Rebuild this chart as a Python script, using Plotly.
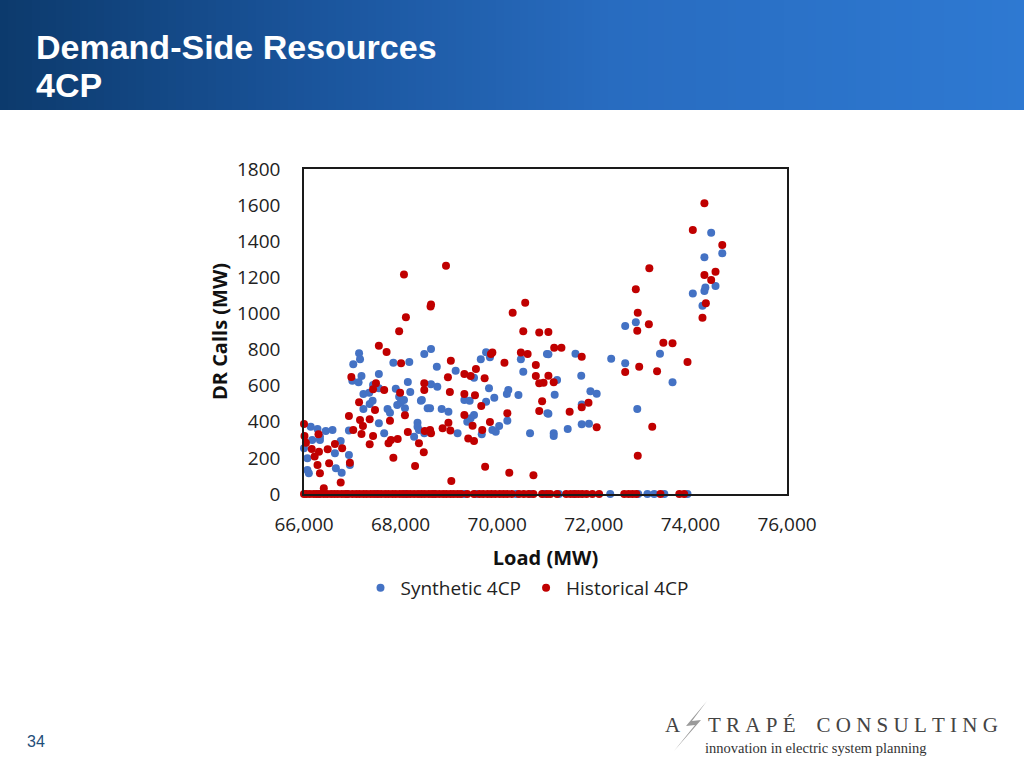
import plotly.graph_objects as go

# ---------------- data ----------------
syn_load = [
    74430, 74290, 74660, 74310, 74290, 74520, 74050, 74250, 72650, 72870,
    71060, 71620, 72360, 72650, 73370, 73630, 71740, 71240, 71190, 71930,
    72060, 71750, 71060, 72900, 71750, 71900, 71460, 71170, 71170,
    67140, 67160, 67020, 67850, 68180, 68490, 67550, 67190, 67000, 67130,
    67430, 68150, 67230, 67350, 67550, 67900, 68200, 67970, 68070, 68000,
    67930, 68420, 68560, 67420, 67360, 67230, 67730, 67780, 68090, 67550,
    67660, 66930, 68350, 68350, 68280, 66140, 66280, 66450, 66590, 66330,
    66330, 66000, 66170, 66760, 66640, 66930,
    66070, 66070, 66100, 66660, 66780, 66950,
    68630, 68750, 69140, 69660, 69770, 69850, 70490, 70540, 71030, 69520,
    68630, 68760, 69830, 70230, 70200, 70440, 69940, 68440, 69320, 69430,
    69770, 68610, 68850, 68990, 69520, 69450, 69380, 70210, 70040, 69900,
    69970, 69680, 69180, 68490, 68380, 70680, 71040,
    # zero calls
    69320, 69560, 70390, 70970, 71280, 72340, 72920, 73110, 73250, 73460,
    73940, 66300, 66900, 67500, 68100, 68700, 70700, 71600,
]
syn_calls = [
    1447, 1311, 1333, 1143, 1124, 1152, 1111, 1043, 930, 951,
    774, 777, 749, 724, 777, 619, 655, 631, 550, 569,
    555, 495, 445, 471, 386, 389, 360, 336, 321,
    779, 746, 718, 727, 731, 775, 665, 653, 627, 619,
    604, 620, 554, 561, 585, 583, 565, 539, 521, 506,
    493, 517, 475, 517, 498, 471, 471, 450, 475, 392,
    336, 351, 395, 373, 317, 373, 360, 349, 354, 317,
    299, 253, 299, 293, 225, 216,
    198, 133, 115, 142, 118, 161,
    803, 705, 683, 746, 785, 757, 746, 677, 775, 644,
    608, 594, 585, 576, 554, 548, 533, 521, 521, 517,
    511, 475, 471, 456, 437, 419, 400, 406, 377, 354,
    345, 331, 336, 336, 354, 336, 447,
    0, 0, 0, 0, 0, 0, 0, 0, 0, 0,
    0, 0, 0, 0, 0, 0, 0, 0,
]

hist_load = [
    74290, 74050, 74660, 73150, 74290, 74520, 74430, 72870, 74320, 74250,
    72910, 73140, 72900, 70870, 71060, 73440, 73630, 68070, 68940, 68630,
    68620, 68110, 67970, 70320, 70580, 70540, 71180, 71330, 71750, 72650,
    72940, 73940, 73310, 71060, 70870, 70960, 71170, 70930, 71750, 71890,
    70870, 71500, 72060, 73210, 72910, 67550, 67710, 68010, 66980, 67490,
    67430, 67660, 67990, 68490, 68490, 67140, 67470, 66930, 67160, 67360,
    67220, 67780, 68090, 67020, 67190, 67430, 68150, 68500, 67800, 67750,
    67940, 67360, 68380, 68480, 67850, 66000, 66010, 66040, 66300, 66160,
    66310, 66490, 66640, 66790, 66220, 68300, 69750, 70250, 70750, 69050,
    66760, 66410, 66330, 66520, 66280, 66950, 70490, 70630, 69900, 69870,
    70150, 69040, 70800, 70800, 69560, 69320, 69450, 68980, 69740, 69020,
    69320, 69540, 69670, 69320, 70210, 68990, 69850, 69490, 68610, 68630,
    68870, 69030, 69690, 69400, 69520,
    # zero calls
    66000, 66050, 66120, 66200, 66260, 66330, 66410, 66480, 66560, 66630,
    66700, 66780, 66850, 66910, 67000, 67080, 67150, 67230, 67300, 67380,
    67450, 67530, 67600, 67680, 67750, 67830, 67900, 67980, 68050, 68130,
    68200, 68280, 68360, 68430, 68500, 68580, 68650, 68720, 68800, 68880,
    68950, 69030, 69100, 69180, 69250, 69380, 69520, 69630, 69710, 69800,
    69880, 69960, 70050, 70130, 70210, 70300, 70450, 70550, 70650, 70750,
    70930, 71030, 71100, 71240, 71430, 71520, 71600, 71680, 71760, 71850,
    71970, 72110, 72630, 72720, 72800, 72880, 73380, 73770, 73870,
]
hist_calls = [
    1610, 1462, 1379, 1250, 1213, 1231, 1185, 1134, 1056, 976,
    1004, 940, 904, 895, 897, 838, 835, 1215, 1264, 1050,
    1038, 979, 901, 1004, 1059, 901, 810, 810, 760, 676,
    705, 731, 680, 655, 613, 616, 619, 513, 480, 506,
    460, 456, 369, 373, 212, 821, 786, 724, 648, 613,
    580, 576, 561, 613, 576, 508, 465, 432, 410, 414,
    377, 406, 436, 354, 332, 321, 343, 349, 299, 281,
    305, 275, 281, 231, 201, 388, 321, 284, 331, 249,
    234, 248, 277, 253, 207, 155, 151, 118, 104, 72,
    63, 32, 115, 170, 161, 173, 783, 775, 783, 775,
    727, 738, 714, 653, 692, 665, 653, 646, 641, 565,
    554, 547, 487, 437, 447, 395, 399, 378, 354, 336,
    364, 351, 354, 308, 294,
    0, 0, 0, 0, 0, 0, 0, 0, 0, 0,
    0, 0, 0, 0, 0, 0, 0, 0, 0, 0,
    0, 0, 0, 0, 0, 0, 0, 0, 0, 0,
    0, 0, 0, 0, 0, 0, 0, 0, 0, 0,
    0, 0, 0, 0, 0, 0, 0, 0, 0, 0,
    0, 0, 0, 0, 0, 0, 0, 0, 0, 0,
    0, 0, 0, 0, 0, 0, 0, 0, 0, 0,
    0, 0, 0, 0, 0, 0, 0, 0, 0,
]

series_names = ["Synthetic 4CP", "Historical 4CP"]
x_ticks = [66000, 68000, 70000, 72000, 74000, 76000]
y_ticks = [0, 200, 400, 600, 800, 1000, 1200, 1400, 1600, 1800]

# ---------------- layout helpers ----------------
W, H = 1024, 768


def px(x):
    return x / W


def py(y):
    return 1 - y / H


fig = go.Figure()
fig.add_trace(go.Scatter(
    x=syn_load, y=syn_calls, mode="markers", name=series_names[0],
    marker=dict(color="#4472C4", size=8, line=dict(width=0)), cliponaxis=False))
fig.add_trace(go.Scatter(
    x=hist_load, y=hist_calls, mode="markers", name=series_names[1],
    marker=dict(color="#C00000", size=8, line=dict(width=0)), cliponaxis=False))

shapes = []
# header gradient band
stops = [(0.0, (12, 58, 108)), (0.3, (26, 84, 155)), (0.6, (40, 108, 192)), (1.0, (46, 121, 210))]


def grad(t):
    for (t0, c0), (t1, c1) in zip(stops[:-1], stops[1:]):
        if t0 <= t <= t1:
            f = (t - t0) / (t1 - t0)
            return tuple(int(round(a + (b - a) * f)) for a, b in zip(c0, c1))
    return stops[-1][1]


N = 128
for i in range(N):
    c = grad((i + 0.5) / N)
    shapes.append(dict(type="rect", xref="paper", yref="paper",
                       x0=i / N, x1=min(1, (i + 1) / N + 0.002), y0=py(110), y1=1,
                       fillcolor="rgb(%d,%d,%d)" % c, line=dict(width=0), layer="below"))

# logo bolt
bolt = [(707, 701), (686, 726), (695, 725), (674, 751), (701, 720), (692, 721)]
path = "M " + " L ".join("%f,%f" % (px(a), py(b)) for a, b in bolt) + " Z"
shapes.append(dict(type="path", xref="paper", yref="paper", path=path,
                   fillcolor="#9a9a9a", line=dict(width=0)))

annotations = [
    dict(text="<b>Demand-Side Resources</b>", x=px(34), y=py(47), xref="paper", yref="paper",
         xanchor="left", yanchor="middle", showarrow=False,
         font=dict(family="Liberation Sans, Arial", size=34, color="white")),
    dict(text="<b>4CP</b>", x=px(34), y=py(85), xref="paper", yref="paper",
         xanchor="left", yanchor="middle", showarrow=False,
         font=dict(family="Liberation Sans, Arial", size=34, color="white")),
    dict(text="34", x=px(36), y=py(741), xref="paper", yref="paper",
         xanchor="center", yanchor="middle", showarrow=False,
         font=dict(family="Liberation Sans, Arial", size=16, color="#1F4E79")),
    dict(text="A", x=px(663), y=py(725), xref="paper", yref="paper",
         xanchor="left", yanchor="middle", showarrow=False,
         font=dict(family="Liberation Serif, Times New Roman", size=21, color="#444444")),
    dict(text="T\u2005R\u2005A\u2005P\u2005\u00C9\u2003C\u2005O\u2005N\u2005S\u2005U\u2005L\u2005T\u2005I\u2005N\u2005G",
         x=px(706), y=py(725), xref="paper", yref="paper",
         xanchor="left", yanchor="middle", showarrow=False,
         font=dict(family="Liberation Serif, Times New Roman", size=21, color="#444444")),
    dict(text="innovation in electric system planning", x=px(703), y=py(748), xref="paper", yref="paper",
         xanchor="left", yanchor="middle", showarrow=False,
         font=dict(family="Liberation Serif, Times New Roman", size=14.5, color="#333333")),
]

tick_font = dict(family="Open Sans, Noto Sans, sans-serif", size=19, color="#222222")
title_font = dict(family="Open Sans, Noto Sans, sans-serif", size=20, color="#111111")

fig.update_layout(
    template="none",
    width=W, height=H, margin=dict(l=0, r=0, t=0, b=0, pad=0, autoexpand=False),
    paper_bgcolor="white", plot_bgcolor="white",
    shapes=shapes, annotations=annotations,
    showlegend=True,
    legend=dict(orientation="h", x=px(527), xanchor="center", y=py(588), yanchor="middle",
                font=tick_font, bgcolor="rgba(0,0,0,0)", itemsizing="trace"),
    xaxis=dict(domain=[px(304), px(787)], range=[66000, 76000], automargin=False,
               tickvals=x_ticks, tickformat=",d", showgrid=False, zeroline=False,
               showline=True, linecolor="#1a1a1a", linewidth=1.5, mirror=True,
               ticks="", tickfont=tick_font, ticklabelstandoff=12,
               title=dict(text="<b>Load (MW)</b>", font=title_font, standoff=15)),
    yaxis=dict(domain=[py(494), py(169)], range=[0, 1800], automargin=False,
               tickvals=y_ticks, tickformat="d", showgrid=False, zeroline=False,
               showline=True, linecolor="#1a1a1a", linewidth=1.5, mirror=True,
               ticks="", tickfont=tick_font, ticklabelstandoff=18,
               title=dict(text="<b>DR Calls (MW)</b>", font=title_font, standoff=4)),
)

fig.write_html(
    "out.html",
    config={"displayModeBar": False},
    post_script="document.body.style.margin='0';document.body.style.padding='0';",
)
